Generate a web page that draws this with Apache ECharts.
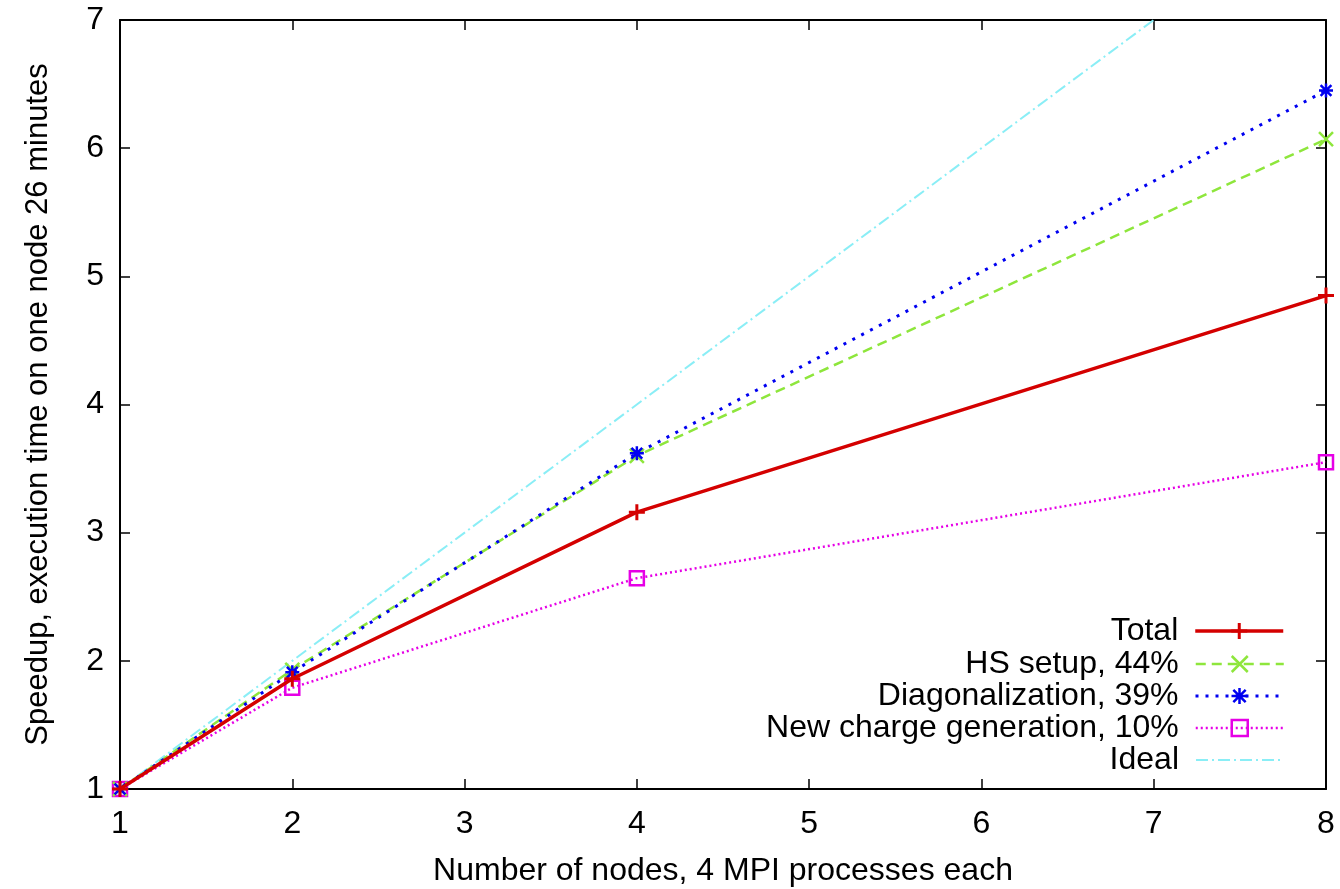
<!DOCTYPE html>
<html>
<head>
<meta charset="utf-8">
<script src="https://cdn.jsdelivr.net/npm/echarts@6/dist/echarts.min.js"></script>
<style>
html,body{margin:0;padding:0;background:#fff;}
#chart{width:1340px;height:889px;}
</style>
</head>
<body>
<div id="chart"></div>
<script>
// ---- data ----
const nodes = [1, 2, 4, 8];
const totalSpeedup = [1, 1.86, 3.16, 4.85];
const hsSetupSpeedup = [1, 1.93, 3.60, 6.07];
const diagSpeedup = [1, 1.91, 3.62, 6.45];
const chargeSpeedup = [1, 1.79, 2.645, 3.55];
const idealSpeedup = [1, 2, 4, 8];
const seriesNames = ['Total', 'HS setup, 44%', 'Diagonalization, 39%', 'New charge generation, 10%', 'Ideal'];
const xTicks = [1, 2, 3, 4, 5, 6, 7, 8];
const yTicks = [1, 2, 3, 4, 5, 6, 7];
const xTitle = 'Number of nodes, 4 MPI processes each';
const yTitle = 'Speedup, execution time on one node 26 minutes';

// ---- styling ----
const FONT = 'Liberation Sans, Arial, Helvetica, sans-serif';
const FS = 32;
const colors = ['#d40000', '#8ee63c', '#0000f0', '#e600e6', '#8aeef6'];
const pair = (xs, ys) => xs.map((x, i) => [x, ys[i]]);

const PLUS = 'path://M0,5L10,5M5,0L5,10';
const CROSS = 'path://M0,0L10,10M10,0L0,10';
const STAR = 'path://M0,0L10,10M10,0L0,10M5,-1.5L5,11.5M-1.5,5L11.5,5';
const SQUARE = 'path://M0,0L10,0L10,10L0,10Z';

const chart = echarts.init(document.getElementById('chart'), null, {renderer: 'canvas'});

const axisBase = {
  type: 'value', min: 1, interval: 1,
  axisLine: {show: true, onZero: false, lineStyle: {color: '#000', width: 2}},
  axisTick: {show: true, inside: true, length: 10, lineStyle: {color: '#000', width: 1.5}},
  splitLine: {show: false}
};

function makeLegend(name, idx) {
  const tops = [614, 647, 679, 711, 743];
  const item = idx === 4 ? {name: name, itemStyle: {opacity: 0}} : {name: name};
  return {
    data: [item], orient: 'vertical', right: 55, top: tops[idx],
    align: 'right', itemWidth: 88, itemHeight: 20, padding: 0,
    selectedMode: false,
    itemStyle: {borderWidth: 'inherit'},
    lineStyle: {width: 'inherit'},
    textStyle: {fontFamily: FONT, fontSize: FS, color: '#000', lineHeight: 34, padding: [0, 12, 0, 0]}
  };
}

const option = {
  animation: false,
  backgroundColor: '#fff',
  color: colors,
  grid: {left: 120, right: 14, top: 20, bottom: 100, containLabel: false, outerBoundsMode: 'none'},
  legend: seriesNames.map(makeLegend),
  xAxis: [
    Object.assign({}, axisBase, {
      max: 8, position: 'bottom',
      name: xTitle, nameLocation: 'middle', nameGap: 66,
      nameTextStyle: {fontFamily: FONT, fontSize: FS, color: '#000'},
      axisLabel: {fontFamily: FONT, fontSize: FS, color: '#000', margin: 19,
        formatter: v => (xTicks.indexOf(v) >= 0 ? String(v) : '')}
    }),
    Object.assign({}, axisBase, {max: 8, position: 'top', axisLabel: {show: false}})
  ],
  yAxis: [
    Object.assign({}, axisBase, {
      max: 7, position: 'left',
      name: yTitle, nameLocation: 'middle', nameGap: 66, nameRotate: 90,
      nameTextStyle: {fontFamily: FONT, fontSize: 31, color: '#000'},
      axisLabel: {fontFamily: FONT, fontSize: FS, color: '#000', margin: 16,
        formatter: v => (yTicks.indexOf(v) >= 0 ? String(v) : '')}
    }),
    Object.assign({}, axisBase, {max: 7, position: 'right', axisLabel: {show: false}})
  ],
  series: [
    {
      name: seriesNames[0], type: 'line', data: pair(nodes, totalSpeedup), z: 5,
      symbol: PLUS, symbolSize: 16, showAllSymbol: true,
      lineStyle: {color: colors[0], width: 3.5, type: 'solid'},
      itemStyle: {color: colors[0], borderColor: colors[0], borderWidth: 3}
    },
    {
      name: seriesNames[1], type: 'line', data: pair(nodes, hsSetupSpeedup), z: 4,
      symbol: CROSS, symbolSize: 14,
      lineStyle: {color: colors[1], width: 2.5, type: [10, 6]},
      itemStyle: {color: colors[1], borderColor: colors[1], borderWidth: 2.5}
    },
    {
      name: seriesNames[2], type: 'line', data: pair(nodes, diagSpeedup), z: 4,
      symbol: STAR, symbolSize: 14,
      lineStyle: {color: colors[2], width: 3, type: [3, 7]},
      itemStyle: {color: colors[2], borderColor: colors[2], borderWidth: 2.5}
    },
    {
      name: seriesNames[3], type: 'line', data: pair(nodes, chargeSpeedup), z: 3,
      symbol: SQUARE, symbolSize: 14,
      lineStyle: {color: colors[3], width: 2.5, type: [2, 3]},
      itemStyle: {color: 'rgba(255,255,255,0)', borderColor: colors[3], borderWidth: 2.5}
    },
    {
      name: seriesNames[4], type: 'line', data: pair(nodes, idealSpeedup), z: 2,
      symbol: 'none', clip: true,
      lineStyle: {color: colors[4], width: 2, type: [12, 4, 2, 4]},
      itemStyle: {color: colors[4]}
    }
  ]
};
chart.setOption(option);
</script>
</body>
</html>
